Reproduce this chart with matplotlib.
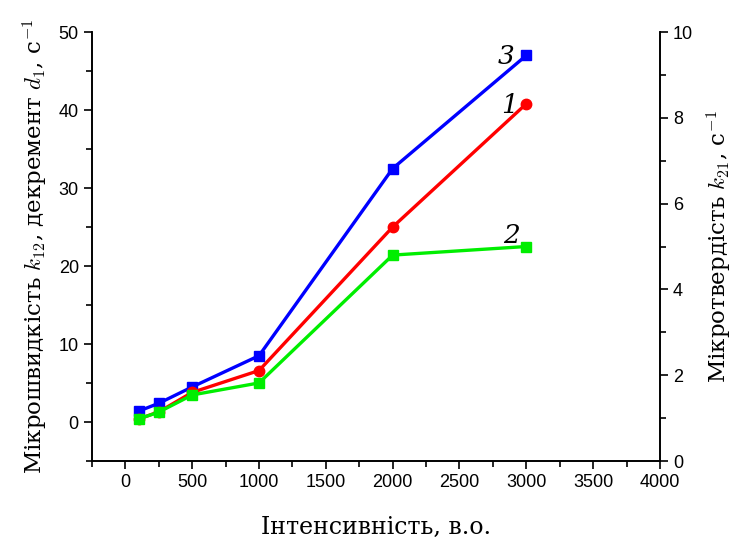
import matplotlib.pyplot as plt
from matplotlib.ticker import MultipleLocator
plt.switch_backend('Agg')

intensity = [100, 250, 500, 1000, 2000, 3000]
k12 = [0.4, 1.3, 3.8, 6.6, 25.0, 40.8]          # curve 1, left axis
d1 = [1.4, 2.4, 4.5, 8.5, 32.5, 47.0]           # curve 3, left axis
k21 = [0.98, 1.14, 1.54, 1.82, 4.8, 5.0]        # curve 2, right axis

plt.rcParams['mathtext.fontset'] = 'cm'
tick_font = 'Liberation Sans'
label_font = 'DejaVu Serif'

fig = plt.figure(figsize=(7.39, 5.39), dpi=100)
ax = fig.add_axes([0.1245, 0.1447, 0.7685, 0.7959])
ax2 = ax.twinx()

ax.plot(intensity, d1, color='#0000ff', lw=2.4, marker='s', ms=7)
ax.plot(intensity, k12, color='#ff0000', lw=2.4, marker='o', ms=7.5)
ax2.plot(intensity, k21, color='#00ee00', lw=2.4, marker='s', ms=7)

ax.set_xlim(-250, 4000)
ax.set_ylim(-5, 50)
ax2.set_ylim(0, 10)

ax.xaxis.set_major_locator(MultipleLocator(500))
ax.xaxis.set_minor_locator(MultipleLocator(250))
ax.yaxis.set_major_locator(MultipleLocator(10))
ax.yaxis.set_minor_locator(MultipleLocator(5))
ax2.yaxis.set_major_locator(MultipleLocator(2))
ax2.yaxis.set_minor_locator(MultipleLocator(1))

for a in (ax, ax2):
    a.spines['top'].set_visible(False)
    for s in a.spines.values():
        s.set_linewidth(1.2)
    a.tick_params(which='major', direction='out', length=6, width=1.2,
                  labelsize=13)
    a.tick_params(which='minor', direction='out', length=4, width=1.2)
    for lab in a.get_xticklabels() + a.get_yticklabels():
        lab.set_fontfamily(tick_font)

ax.set_xlabel('Інтенсивність, в.о.', fontsize=17, family=label_font, labelpad=18)
ax.set_ylabel('Мікрошвидкість $k_{12}$, декремент $d_1$, с$^{-1}$',
              fontsize=16.5, family=label_font, labelpad=6)
ax2.set_ylabel('Мікротвердість $k_{21}$, с$^{-1}$', fontsize=16.5,
               family=label_font, rotation=90, labelpad=8)

lab_kw = dict(fontsize=19, ha='center', va='center', family='DejaVu Serif',
              style='italic')
ax.text(2850, 46.8, '3', **lab_kw)
ax.text(2875, 40.6, '1', **lab_kw)
ax.text(2890, 23.9, '2', **lab_kw)

fig.savefig('out.png', dpi=100)
